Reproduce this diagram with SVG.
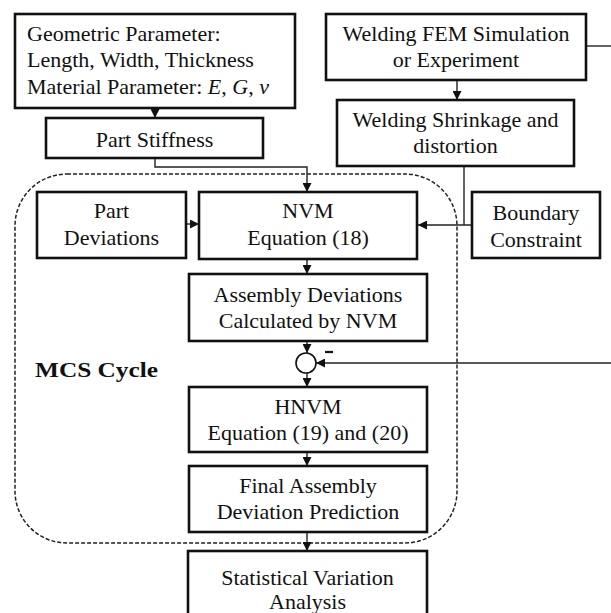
<svg xmlns="http://www.w3.org/2000/svg" width="611" height="613" viewBox="0 0 611 613">
<defs>
<marker id="ah" viewBox="0 0 10 10" refX="10" refY="5" markerWidth="9" markerHeight="9" markerUnits="userSpaceOnUse" orient="auto">
<path d="M0,0 L10,5 L0,10 z" fill="#111"/>
</marker>
</defs>
<style>
.box{fill:#fff;stroke:#111;stroke-width:2.6}
text{font-family:'Liberation Serif','Times New Roman',Times,'DejaVu Serif',serif;font-size:22px;fill:#111}
.c{text-anchor:middle}
.ln{fill:none;stroke:#222;stroke-width:1.4}
.arr{marker-end:url(#ah)}
</style>
<rect width="611" height="613" fill="#fff"/>
<g id="mcs-cycle">
<rect x="15" y="174" width="442" height="369" rx="52" ry="52" fill="none" stroke="#222" stroke-width="1.5" stroke-dasharray="4,2"/>
<text x="35" y="377" font-weight="bold" font-size="23" textLength="123" lengthAdjust="spacingAndGlyphs">MCS Cycle</text>
</g>
<g id="connectors">
<path class="ln arr" d="M155,108 V118"/>
<path class="ln arr" d="M155,158 V167 H307 V192"/>
<path class="ln arr" d="M457,80 V100"/>
<path class="ln" d="M586,46 H611"/>
<path class="ln" d="M464,166 V225"/>
<path class="ln arr" d="M472,225 H418"/>
<path class="ln arr" d="M186,224 H199"/>
<path class="ln arr" d="M307,259 V274"/>
<path class="ln arr" d="M307,341 V353"/>
<path class="ln arr" d="M611,363 H316"/>
<path class="ln arr" d="M307,373 V387"/>
<path class="ln arr" d="M307,452 V466"/>
<path class="ln arr" d="M307,532 V551"/>
</g>
<g id="sum-node">
<circle cx="306" cy="363" r="10" fill="#fff" stroke="#111" stroke-width="1.6"/>
<path d="M325,352 H333" stroke="#111" stroke-width="2.2"/>
</g>
<g id="geometric">
<rect class="box" x="15" y="14" width="280" height="94"/>
<text x="27" y="41">Geometric Parameter:</text>
<text x="27" y="67">Length, Width, Thickness</text>
<text x="27" y="94">Material Parameter: <tspan font-style="italic">E</tspan>, <tspan font-style="italic">G</tspan>,  <tspan font-style="italic">ν</tspan></text>
</g>
<g id="part-stiffness">
<rect class="box" x="46" y="118" width="217" height="40"/>
<text class="c" x="154.5" y="147">Part Stiffness</text>
</g>
<g id="welding-fem">
<rect class="box" x="326" y="14" width="260" height="66"/>
<text class="c" x="456" y="41">Welding FEM Simulation</text>
<text class="c" x="456" y="67">or Experiment</text>
</g>
<g id="welding-shrinkage">
<rect class="box" x="337" y="100" width="237" height="66"/>
<text class="c" x="455.5" y="127">Welding Shrinkage and</text>
<text class="c" x="455.5" y="153">distortion</text>
</g>
<g id="part-deviations">
<rect class="box" x="37" y="192" width="149" height="66"/>
<text class="c" x="111.5" y="218">Part</text>
<text class="c" x="111.5" y="245">Deviations</text>
</g>
<g id="nvm">
<rect class="box" x="199" y="192" width="218" height="67"/>
<text class="c" x="308" y="218">NVM</text>
<text class="c" x="308" y="245">Equation (18)</text>
</g>
<g id="boundary">
<rect class="box" x="472" y="192" width="128" height="66"/>
<text class="c" x="536" y="220">Boundary</text>
<text class="c" x="536" y="247">Constraint</text>
</g>
<g id="assembly-deviations">
<rect class="box" x="189" y="274" width="238" height="67"/>
<text class="c" x="308" y="302">Assembly Deviations</text>
<text class="c" x="308" y="328">Calculated by NVM</text>
</g>
<g id="hnvm">
<rect class="box" x="189" y="387" width="238" height="65"/>
<text class="c" x="308" y="414">HNVM</text>
<text class="c" x="308" y="440">Equation (19) and (20)</text>
</g>
<g id="final-assembly">
<rect class="box" x="189" y="466" width="238" height="66"/>
<text class="c" x="308" y="493">Final Assembly</text>
<text class="c" x="308" y="519">Deviation Prediction</text>
</g>
<g id="statistical">
<rect class="box" x="188" y="551" width="239" height="70"/>
<text class="c" x="307.5" y="585">Statistical Variation</text>
<text class="c" x="307.5" y="609">Analysis</text>
</g>
</svg>
